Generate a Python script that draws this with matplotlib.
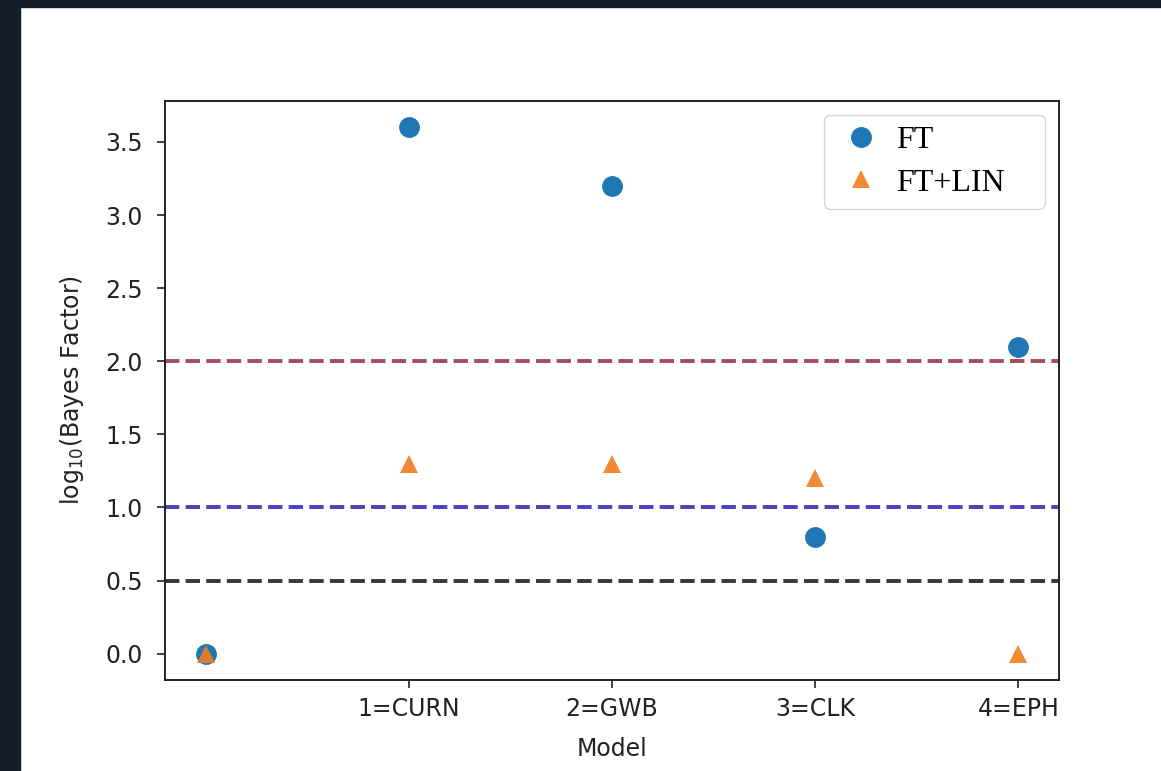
import matplotlib
matplotlib.use("Agg")
import matplotlib.pyplot as plt
from matplotlib.patches import Rectangle

# data
models = [0, 1, 2, 3, 4]
tick_pos = [1, 2, 3, 4]
tick_labels = ["1=CURN", "2=GWB", "3=CLK", "4=EPH"]
ft = [0.0, 3.6, 3.2, 0.8, 2.1]
ft_lin = [0.0, 1.3, 1.3, 1.2, 0.0]
thresholds = [2.0, 1.0, 0.5]
threshold_colors = ["#a44c5c", "#4a40c2", "#383838"]

fig = plt.figure(figsize=(11.61, 7.71), dpi=100, facecolor="white")
ax = fig.add_axes([0.1421, 0.1180, 0.7700, 0.7510])

# slide background showing at the top and left edges
fig.add_artist(Rectangle((0, 0), 20 / 1161, 1, transform=fig.transFigure,
                         color="#161e2c", zorder=-10))
fig.add_artist(Rectangle((0, 1 - 7 / 771), 1, 7 / 771, transform=fig.transFigure,
                         color="#161e2c", zorder=-10))

ax.plot(models, ft, "o", color="#1f77b4", markersize=14, label="FT", zorder=3)
ax.plot(models, ft_lin, "^", color="#f07d1c", markersize=13, alpha=0.9,
        markeredgewidth=0, label="FT+LIN", zorder=4)

for y, col in zip(thresholds, threshold_colors):
    ax.axhline(y, color=col, linestyle="--", linewidth=2.8, zorder=2)

ax.set_xlim(-0.2, 4.2)
ax.set_ylim(-0.18, 3.78)
ax.set_xticks(tick_pos)
ax.set_xticklabels(tick_labels)
ax.set_yticks([0.0, 0.5, 1.0, 1.5, 2.0, 2.5, 3.0, 3.5])
ax.tick_params(labelsize=17, length=6, width=1.2, colors="#222222")
ax.tick_params(axis="y", pad=10)
ax.tick_params(axis="x", pad=6)
for s in ax.spines.values():
    s.set_linewidth(1.4)
    s.set_color("#222222")

ax.set_xlabel("Model", fontsize=17, color="#222222", labelpad=12)
ax.set_ylabel(r"log$_{10}$(Bayes Factor)", fontsize=17, color="#222222", labelpad=14)

leg = ax.legend(loc="upper left", bbox_to_anchor=(0.737, 0.976, 0.247, 0),
                mode="expand", borderaxespad=0,
                prop={"family": "Liberation Serif", "size": 23},
                handlelength=1.6, handletextpad=0.3, borderpad=0.35,
                labelspacing=0.4)
leg.get_frame().set_edgecolor("#cccccc")

fig.savefig("out.png", dpi=100, facecolor=fig.get_facecolor())
